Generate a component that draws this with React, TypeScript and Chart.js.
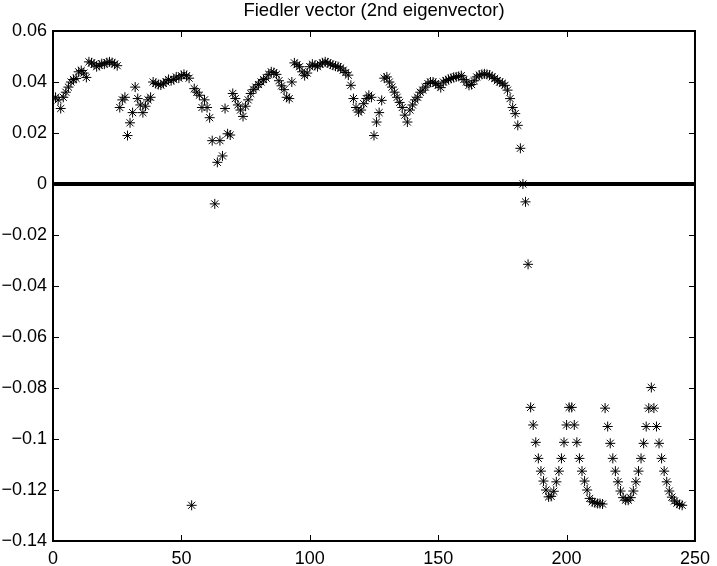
import React, { useEffect, useRef } from "react";
import { Chart, registerables } from "chart.js";

Chart.register(...registerables);

const TITLE = "Fiedler vector (2nd eigenvector)";
const FONT = "'Liberation Sans', Arial, Helvetica, sans-serif";

const xTickValues = [0, 50, 100, 150, 200, 250];
const xTickLabels = ["0", "50", "100", "150", "200", "250"];
const yTickValues = [-0.14, -0.12, -0.1, -0.08, -0.06, -0.04, -0.02, 0, 0.02, 0.04, 0.06];
const yTickLabels = [
  "\u22120.14", "\u22120.12", "\u22120.1", "\u22120.08", "\u22120.06",
  "\u22120.04", "\u22120.02", "0", "0.02", "0.04", "0.06",
];

// Fiedler vector entries, index 1..245
const fiedler = [
  // 1-25
  0.034, 0.033, 0.0296, 0.034, 0.036, 0.038, 0.04, 0.041, 0.0414, 0.044,
  0.0445, 0.0435, 0.0418, 0.0479, 0.0475, 0.047, 0.046, 0.0465, 0.0472, 0.047,
  0.0476, 0.0479, 0.0476, 0.047, 0.0464,
  // 26-40
  0.03, 0.033, 0.034, 0.019, 0.024, 0.028, 0.038, 0.0335, 0.031, 0.028,
  0.0305, 0.033, 0.034, 0.04, 0.0394,
  // 41-53
  0.039, 0.0388, 0.0395, 0.04, 0.041, 0.0405, 0.041, 0.042, 0.0415, 0.0425,
  0.043, 0.0425, 0.0415,
  // 54
  -0.126,
  // 55-75
  0.0374, 0.036, 0.0348, 0.03, 0.033, 0.03, 0.026, 0.017, -0.0078, 0.0085,
  0.017, 0.011, 0.0296, 0.0197, 0.0192, 0.0355, 0.0335, 0.031, 0.029, 0.0265,
  0.0305,
  // 76-94
  0.033, 0.0355, 0.037, 0.038, 0.039, 0.04, 0.041, 0.0415, 0.043, 0.044,
  0.0437, 0.043, 0.0405, 0.0385, 0.037, 0.034, 0.0335, 0.04, 0.0475,
  // 95-124
  0.0468, 0.046, 0.044, 0.0425, 0.0435, 0.046, 0.047, 0.0465, 0.046, 0.047,
  0.0475, 0.0479, 0.0475, 0.047, 0.0466, 0.0462, 0.046, 0.0455, 0.0446, 0.0437,
  0.0427, 0.0387, 0.0335, 0.03, 0.0282, 0.029, 0.0315, 0.0335, 0.0348, 0.034,
  // 125-130
  0.019, 0.0243, 0.028, 0.0328, 0.0415, 0.042,
  // 131-180
  0.04, 0.038, 0.036, 0.034, 0.032, 0.03, 0.027, 0.0243, 0.029, 0.031,
  0.033, 0.034, 0.036, 0.0368, 0.038, 0.0394, 0.04, 0.04, 0.0394, 0.0387,
  0.0378, 0.04, 0.0405, 0.041, 0.0414, 0.0418, 0.042, 0.0422, 0.0425, 0.041,
  0.04, 0.0387, 0.039, 0.0405, 0.042, 0.0427, 0.043, 0.0432, 0.043, 0.0427,
  0.042, 0.0414, 0.0405, 0.04, 0.0395, 0.0387, 0.0368, 0.0335, 0.03, 0.0276,
  // 181-185
  0.023, 0.014, 0.0, -0.007, -0.0315,
  // 186-202
  -0.0876, -0.0945, -0.1013, -0.1076, -0.1126, -0.1165, -0.12, -0.1227, -0.1225, -0.1205,
  -0.1168, -0.1126, -0.1076, -0.1013, -0.0945, -0.0876, -0.0876,
  // 203-214
  -0.0945, -0.1013, -0.1076, -0.1126, -0.1165, -0.12, -0.1233, -0.1246, -0.125, -0.1253,
  -0.1253, -0.1255,
  // 215-245
  -0.0879, -0.0951, -0.1017, -0.1076, -0.1126, -0.1168, -0.1204, -0.123, -0.124, -0.124,
  -0.123, -0.1204, -0.1168, -0.1126, -0.1076, -0.1017, -0.0951, -0.0879, -0.0798, -0.0879,
  -0.0951, -0.1017, -0.1076, -0.1126, -0.1168, -0.1204, -0.1228, -0.1243, -0.1252, -0.1257,
  -0.126,
];

const zeroLineX = [0, 250];
const zeroLineY = [0, 0];

const matlabAxes = {
  id: "matlabAxes",
  afterDatasetsDraw(chart: any) {
    const { ctx, chartArea: a, scales } = chart;
    const x = scales.x;
    const y = scales.y;
    const tl = 6;
    ctx.save();
    ctx.strokeStyle = "#000";
    ctx.lineWidth = 1;
    ctx.beginPath();
    xTickValues.forEach((v) => {
      const px = Math.round(x.getPixelForValue(v)) + 0.5;
      ctx.moveTo(px, a.bottom);
      ctx.lineTo(px, a.bottom - tl);
      ctx.moveTo(px, a.top);
      ctx.lineTo(px, a.top + tl);
    });
    yTickValues.forEach((v) => {
      const py = Math.round(y.getPixelForValue(v)) + 0.5;
      ctx.moveTo(a.left, py);
      ctx.lineTo(a.left + tl, py);
      ctx.moveTo(a.right, py);
      ctx.lineTo(a.right - tl, py);
    });
    ctx.stroke();
    ctx.lineWidth = 2;
    ctx.strokeRect(a.left, a.top, a.right - a.left, a.bottom - a.top);
    ctx.restore();
  },
};

export default function App() {
  const canvasRef = useRef<HTMLCanvasElement | null>(null);

  useEffect(() => {
    const canvas = canvasRef.current;
    if (!canvas) return;
    const chart = new Chart(canvas, {
      type: "scatter",
      data: {
        datasets: [
          {
            type: "line",
            data: zeroLineX.map((xv, i) => ({ x: xv, y: zeroLineY[i] })),
            borderColor: "#000",
            backgroundColor: "#000",
            borderWidth: 4,
            pointRadius: 0,
            showLine: true,
            fill: false,
          } as any,
          {
            data: fiedler.map((v, i) => ({ x: i + 1, y: v })),
            pointStyle: "star",
            pointRadius: 5,
            pointHoverRadius: 5,
            borderColor: "#000",
            backgroundColor: "#000",
            borderWidth: 1,
            showLine: false,
          } as any,
        ],
      },
      options: {
        responsive: false,
        animation: false,
        layout: { padding: { left: 0, right: 17, top: 0, bottom: 0 } },
        plugins: {
          legend: { display: false },
          tooltip: { enabled: false },
          title: {
            display: true,
            text: TITLE,
            fullSize: false,
            color: "#000",
            font: { family: FONT, size: 18.5, weight: "normal" },
            padding: { top: 0, bottom: 8.8 },
          },
        },
        scales: {
          x: {
            type: "linear",
            min: 0,
            max: 250,
            grid: { display: false, drawTicks: false },
            border: { display: false },
            ticks: {
              color: "#000",
              font: { family: FONT, size: 18 },
              padding: 7,
              maxRotation: 0,
              callback: (_v: any, idx: number) => xTickLabels[idx],
            },
            afterBuildTicks: (s: any) => {
              s.ticks = xTickValues.map((v) => ({ value: v }));
            },
            afterFit: (s: any) => {
              s.height = 25;
            },
          },
          y: {
            type: "linear",
            min: -0.14,
            max: 0.06,
            grid: { display: false, drawTicks: false },
            border: { display: false },
            ticks: {
              color: "#000",
              font: { family: FONT, size: 18 },
              padding: 6,
              callback: (_v: any, idx: number) => yTickLabels[idx],
            },
            afterBuildTicks: (s: any) => {
              s.ticks = yTickValues.map((v) => ({ value: v }));
            },
            afterFit: (s: any) => {
              s.width = 53;
            },
          },
        },
      } as any,
      plugins: [matlabAxes],
    });
    return () => chart.destroy();
  }, []);

  return (
    <div style={{ position: "absolute", left: 0, top: 0, width: 717, height: 566, background: "#fff" }}>
      <canvas ref={canvasRef} width={717} height={566} style={{ display: "block" }} />
    </div>
  );
}
